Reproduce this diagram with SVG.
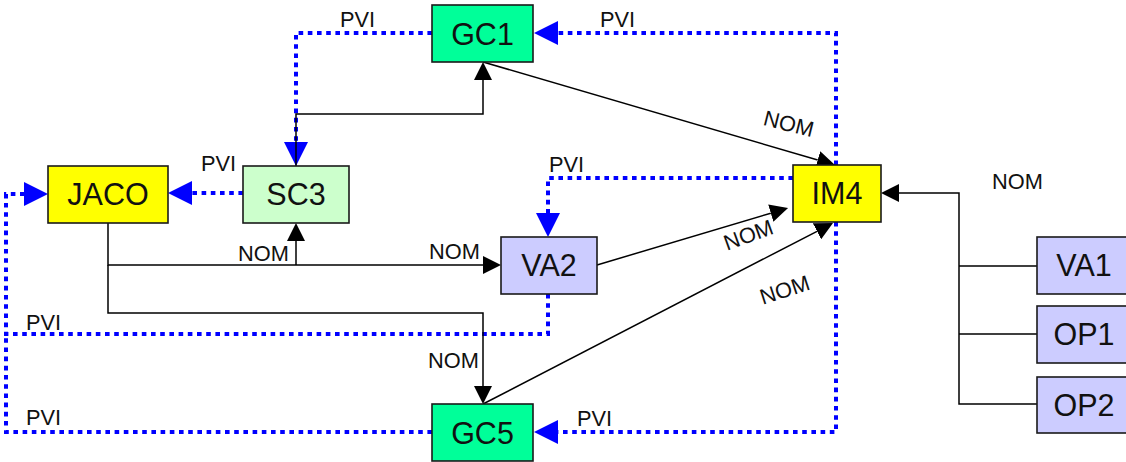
<svg xmlns="http://www.w3.org/2000/svg" width="1126" height="462" viewBox="0 0 1126 462">
<style>
.node{stroke:#1a1a1a;stroke-width:1.6}
.gc{fill:#00FF99}.sc{fill:#CCFFCC}.yl{fill:#FFFF00}.vl{fill:#CCCCFF}
.nt{font-family:"Liberation Sans",Arial,sans-serif;font-size:30.5px;fill:#111;text-anchor:middle}
.lb{font-family:"Liberation Sans",Arial,sans-serif;font-size:21.8px;fill:#111}
.pvi{fill:none;stroke:#0000FF;stroke-width:4;stroke-dasharray:4.6 4.6}
.nom{fill:none;stroke:#000;stroke-width:1.5}
</style>
<defs>
<marker id="ab" markerUnits="userSpaceOnUse" viewBox="0 0 24 24" refX="0" refY="12" markerWidth="24" markerHeight="24" orient="auto"><path d="M0,0 L24,12 L0,24 z" fill="#0000FF"/></marker>
<marker id="ak" markerUnits="userSpaceOnUse" viewBox="0 0 18 18" refX="0" refY="9" markerWidth="18" markerHeight="18" orient="auto"><path d="M0,0 L18,9 L0,18 z" fill="#000"/></marker>
</defs>
<g id="connectors">
<path class="pvi" d="M432,33 H296 V142" marker-end="url(#ab)"/>
<path class="pvi" d="M836,165 V33 H558" marker-end="url(#ab)"/>
<path class="pvi" d="M793,178 H548 V213" marker-end="url(#ab)"/>
<path class="pvi" d="M243,193 H192" marker-end="url(#ab)"/>
<path class="pvi" d="M548,294 V334 H6 V194 H24" marker-end="url(#ab)"/>
<path class="pvi" d="M432,432 H6 V334"/>
<path class="pvi" d="M836,222 V432 H558" marker-end="url(#ab)"/>
<path class="nom" d="M296,166 V114 H483 V80" marker-end="url(#ak)"/>
<path class="nom" d="M108,223 V265 H483" marker-end="url(#ak)"/>
<path class="nom" d="M296,265 V241" marker-end="url(#ak)"/>
<path class="nom" d="M108,265 V313 H483 V386" marker-end="url(#ak)"/>
<path class="nom" d="M483,62 L817.7,160" marker-end="url(#ak)"/>
<path class="nom" d="M597,265 L770.8,213.2" marker-end="url(#ak)"/>
<path class="nom" d="M483,404 L817,231.3" marker-end="url(#ak)"/>
<path class="nom" d="M1037,266 H959 M1037,334 H959 M1037,404 H959 V193 H899" marker-end="url(#ak)"/>
<text class="lb" x="340" y="27">PVI</text>
<text class="lb" x="600" y="27">PVI</text>
<text class="lb" x="201" y="171">PVI</text>
<text class="lb" x="549" y="172">PVI</text>
<text class="lb" x="26" y="330">PVI</text>
<text class="lb" x="26" y="425">PVI</text>
<text class="lb" x="577" y="426">PVI</text>
<text class="lb" x="238" y="261">NOM</text>
<text class="lb" x="429" y="259">NOM</text>
<text class="lb" x="428" y="368">NOM</text>
<text class="lb" x="992" y="189">NOM</text>
<text class="lb" text-anchor="middle" transform="translate(787,131) rotate(14)">NOM</text>
<text class="lb" text-anchor="middle" transform="translate(751,242) rotate(-20)">NOM</text>
<text class="lb" text-anchor="middle" transform="translate(787,297) rotate(-18)">NOM</text>
</g>
<g id="GC1"><rect class="node gc" x="432" y="5" width="101" height="57"/><text class="nt" x="482.5" y="45">GC1</text></g>
<g id="SC3"><rect class="node sc" x="243" y="166" width="106" height="57"/><text class="nt" x="296" y="205">SC3</text></g>
<g id="JACO"><rect class="node yl" x="48" y="166" width="120" height="57"/><text class="nt" x="108" y="205">JACO</text></g>
<g id="VA2"><rect class="node vl" x="501" y="237" width="96" height="57"/><text class="nt" x="549" y="276">VA2</text></g>
<g id="IM4"><rect class="node yl" x="793" y="165" width="88" height="57"/><text class="nt" x="837" y="204">IM4</text></g>
<g id="GC5"><rect class="node gc" x="432" y="404" width="101" height="57"/><text class="nt" x="482.5" y="444">GC5</text></g>
<g id="VA1"><rect class="node vl" x="1037" y="237" width="96" height="57"/><text class="nt" x="1084" y="276">VA1</text></g>
<g id="OP1"><rect class="node vl" x="1037" y="306" width="96" height="57"/><text class="nt" x="1084" y="345">OP1</text></g>
<g id="OP2"><rect class="node vl" x="1037" y="377" width="96" height="56"/><text class="nt" x="1084" y="416">OP2</text></g>
</svg>
